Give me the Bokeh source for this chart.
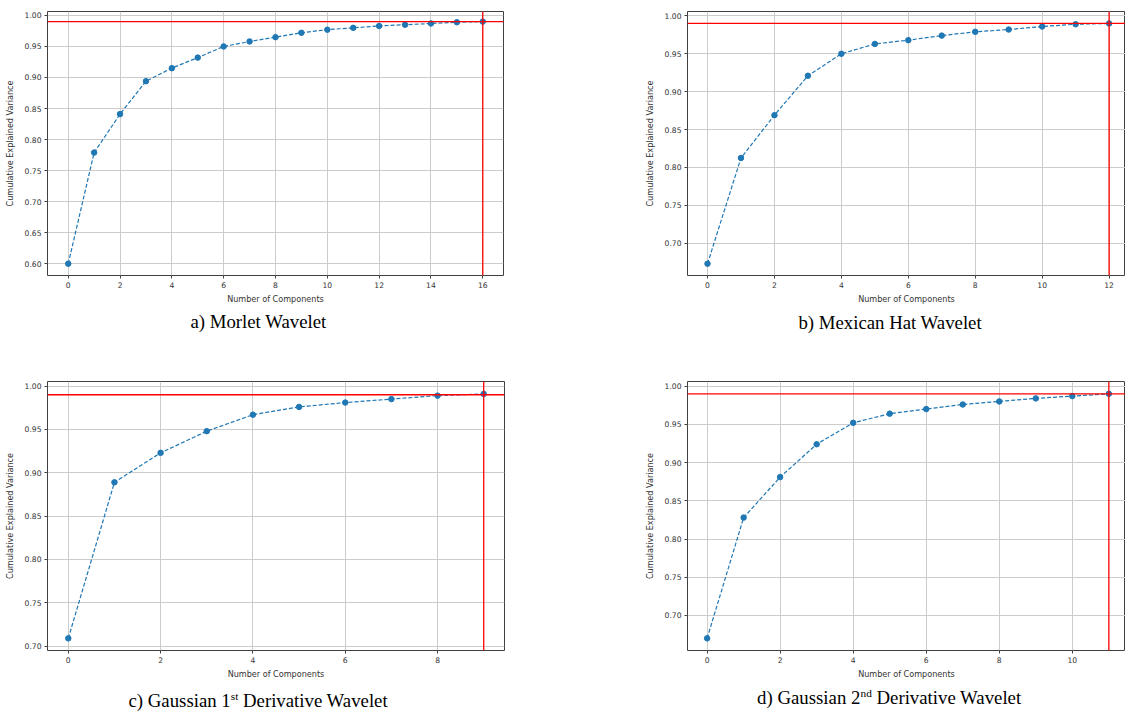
from bokeh.plotting import figure
from bokeh.models import Range1d, FixedTicker, PrintfTickFormatter, Span, Label
from bokeh.layouts import column, row
from bokeh.embed import file_html
from bokeh.resources import INLINE

# ---------------- data ----------------
MORLET = [0.600, 0.779, 0.841, 0.894, 0.915, 0.932, 0.950, 0.958, 0.965,
          0.972, 0.977, 0.980, 0.983, 0.985, 0.987, 0.989, 0.990]
MEXHAT = [0.673, 0.8125, 0.869, 0.921, 0.950, 0.963, 0.968, 0.974, 0.979,
          0.982, 0.986, 0.989, 0.990]
GAUS1 = [0.709, 0.889, 0.923, 0.948, 0.967, 0.976, 0.981, 0.985, 0.989, 0.991]
GAUS2 = [0.670, 0.828, 0.881, 0.924, 0.952, 0.964, 0.970, 0.976, 0.980,
         0.984, 0.987, 0.990]

THRESHOLD = 0.99
CUTOFFS = [16, 12, 9, 11]

XTICKS_A = [0, 2, 4, 6, 8, 10, 12, 14, 16]
XTICKS_B = [0, 2, 4, 6, 8, 10, 12]
XTICKS_C = [0, 2, 4, 6, 8]
XTICKS_D = [0, 2, 4, 6, 8, 10]
YTICKS_A = [0.60, 0.65, 0.70, 0.75, 0.80, 0.85, 0.90, 0.95, 1.00]
YTICKS_BCD = [0.70, 0.75, 0.80, 0.85, 0.90, 0.95, 1.00]

X_LABEL = "Number of Components"
Y_LABEL = "Cumulative Explained Variance"
# caption pieces: (text, is_superscript)
CAPTION_A = [("a) Morlet Wavelet", False)]
CAPTION_B = [("b) Mexican Hat Wavelet", False)]
CAPTION_C = [("c) Gaussian 1", False), ("st", True), ("Derivative Wavelet", False)]
CAPTION_D = [("d) Gaussian 2", False), ("nd", True), ("Derivative Wavelet", False)]

BLUE = "#1f77b4"
TXT = "#333333"
SANS = "DejaVu Sans"
SERIF = "Liberation Serif"
CAP_SIZE = 18.8
TOTAL_W = 1125


def make(vals, cutoff, xr, yr, xticks, yticks, w, h, mbl, mbt, mbr, mbb):
    p = figure(width=w, height=h, output_backend="svg", toolbar_location=None,
               x_range=Range1d(*xr), y_range=Range1d(*yr),
               min_border_left=mbl, min_border_top=mbt,
               min_border_right=mbr, min_border_bottom=mbb)
    p.margin = 0
    p.background_fill_color = "white"
    p.border_fill_color = "white"
    p.outline_line_color = "#404040"
    p.outline_line_width = 1

    xs = list(range(len(vals)))
    p.line(xs, vals, line_color=BLUE, line_width=1.2, line_dash="4 2")
    p.scatter(xs, vals, size=5.5, fill_color=BLUE, line_color=BLUE)

    p.add_layout(Span(location=THRESHOLD, dimension="width",
                      line_color="#ff0000", line_width=1.3))
    p.add_layout(Span(location=cutoff, dimension="height",
                      line_color="#ff0000", line_width=1.3))

    p.xaxis.ticker = FixedTicker(ticks=xticks)
    p.yaxis.ticker = FixedTicker(ticks=yticks)
    p.yaxis.formatter = PrintfTickFormatter(format="%.2f")
    p.xaxis.axis_label = X_LABEL
    p.yaxis.axis_label = Y_LABEL
    for ax in (p.xaxis[0], p.yaxis[0]):
        ax.axis_line_color = None
        ax.major_tick_line_color = "#404040"
        ax.major_tick_out = 3
        ax.major_tick_in = 0
        ax.minor_tick_line_color = None
        ax.major_label_standoff = 3
        ax.major_label_text_font = SANS
        ax.major_label_text_font_size = "7.6px"
        ax.major_label_text_color = TXT
        ax.axis_label_text_font = SANS
        ax.axis_label_text_font_size = "8.1px"
        ax.axis_label_text_font_style = "normal"
        ax.axis_label_text_color = TXT
    p.xaxis.axis_label_standoff = 3
    p.yaxis.axis_label_standoff = 7

    p.xgrid.ticker = FixedTicker(ticks=xticks)
    p.ygrid.ticker = FixedTicker(ticks=yticks)
    p.grid.grid_line_color = "#cccccc"
    p.grid.grid_line_width = 1
    return p


def caption_strip(h, captions):
    """A blank strip (pixel-like coordinates, y downward) holding the captions.
    `base` is the wanted text baseline; labels are placed by their box centre."""
    p = figure(width=TOTAL_W, height=h, output_backend="svg", toolbar_location=None,
               x_range=Range1d(0, TOTAL_W), y_range=Range1d(h, 0),
               x_axis_type=None, y_axis_type=None,
               min_border=0, min_border_left=0, min_border_right=0,
               min_border_top=0, min_border_bottom=0)
    p.margin = 0
    p.outline_line_color = None
    p.grid.visible = False
    p.background_fill_color = "white"
    p.border_fill_color = "white"
    for parts, xs, base, align in captions:
        for (txt, sup), x in zip(parts, xs):
            size = CAP_SIZE * (0.6 if sup else 1.0)
            b = base - (6.5 if sup else 0.0)
            y = b - 0.3375 * size
            p.add_layout(Label(x=x, y=y, text=txt, text_font=SERIF,
                               text_font_size="%.1fpx" % size,
                               text_color="black", text_align=align,
                               text_baseline="alphabetic"))
    return p


fa = make(MORLET, CUTOFFS[0], (-0.8, 16.8), (0.581, 1.0063), XTICKS_A, YTICKS_A,
          513, 312, 47, 7, 10, 33)
fb = make(MEXHAT, CUTOFFS[1], (-0.598, 12.49), (0.6574, 1.0058), XTICKS_B, YTICKS_BCD,
          612, 312, 174, 11, 0, 37)
fc = make(GAUS1, CUTOFFS[2], (-0.45, 9.45), (0.695, 1.0053), XTICKS_C, YTICKS_BCD,
          513, 331, 47, 23, 9, 33)
fd = make(GAUS2, CUTOFFS[3], (-0.537, 11.456), (0.6541, 1.0061), XTICKS_D, YTICKS_BCD,
          612, 331, 174, 26, 0, 36)

cap1 = caption_strip(43, [
    (CAPTION_A, [258.0], 15.5, "center"),
    (CAPTION_B, [889.7], 16.5, "center"),
])
cap2 = caption_strip(26, [
    (CAPTION_C, [128.0, 230.3, 242.5], 20.0, "left"),
    (CAPTION_D, [756.6, 860.0, 876.0], 17.0, "left"),
])

r1 = row(fa, fb, spacing=0, margin=0)
r2 = row(fc, fd, spacing=0, margin=0)
layout = column(r1, cap1, r2, cap2, spacing=0, margin=0)

open("out.html", "w").write(file_html(layout, INLINE))
